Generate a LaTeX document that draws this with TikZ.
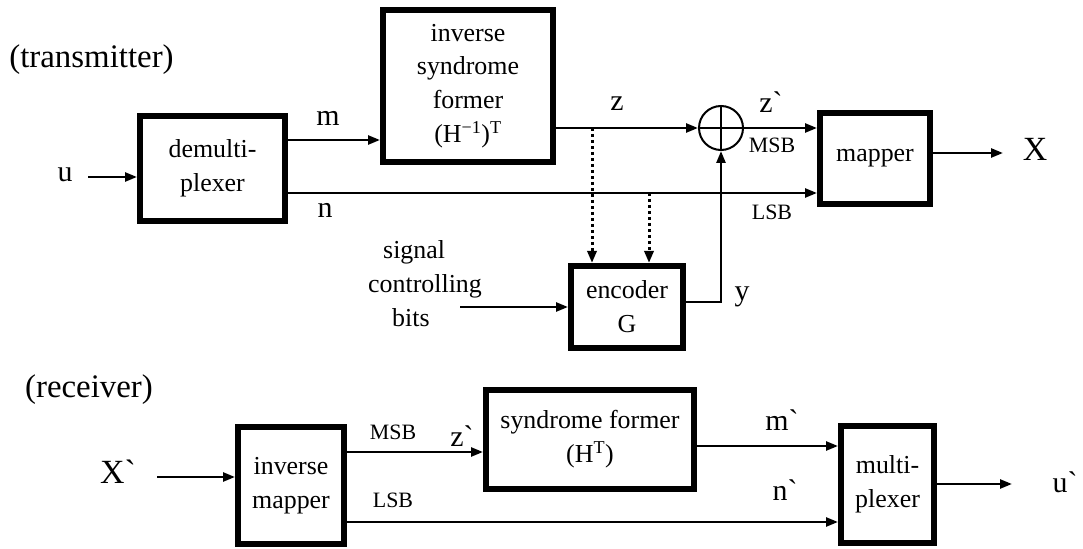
\documentclass[tikz,border=0pt]{standalone}
\usepackage{fontspec}
\setmainfont{Liberation Serif}
\usetikzlibrary{arrows.meta}
\newcommand{\bq}{\textasciigrave}
\begin{document}
\begin{tikzpicture}[x=1bp,y=-1bp,
  blk/.style={draw, line width=6bp, inner sep=0pt, align=center, font=\fontsize{26}{34}\selectfont},
  conn/.style={line width=2.5bp, -{Triangle[length=12bp,width=9bp]}},
  dconn/.style={line width=3bp, dash pattern=on 3bp off 3bp, -{Triangle[length=12bp,width=9bp]}},
  lbl/.style={font=\fontsize{30}{32}\selectfont, inner sep=0pt},
  big/.style={font=\fontsize{34}{36}\selectfont, inner sep=0pt},
  sml/.style={font=\fontsize{22}{24}\selectfont, inner sep=0pt},
  ttl/.style={font=\fontsize{33}{36}\selectfont, inner sep=0pt}]
\useasboundingbox (0,0) rectangle (1083,549);
% transmitter
\node[ttl] (tx) at (91.5,60) {(transmitter)};
\node[blk, minimum width=145bp, minimum height=105bp] (demux) at (212.5,168.5) {demulti-\\plexer};
\node[blk, minimum width=170bp, minimum height=152bp] (isf) at (468,86) {inverse\\syndrome\\former\\(H\textsuperscript{−1})\textsuperscript{T}};
\node[blk, minimum width=110bp, minimum height=91bp] (mapper) at (875,158.5) {mapper};
\node[blk, minimum width=112bp, minimum height=82bp] (enc) at (627,307) {encoder\\G};
\node[draw, circle, line width=2bp, minimum size=44bp, inner sep=0pt] (xor) at (721,128) {};
\draw[line width=2bp] (xor.north) -- (xor.south) (xor.west) -- (xor.east);
\node[lbl] (u) at (65,175) {u};
\coordinate (ustart) at (88,177);
\draw[conn] (ustart) -- (ustart -| demux.west);
\coordinate (mrow) at (0,140);
\draw[conn] (demux.east |- mrow) -- (isf.west |- mrow);
\node[lbl] (m) at (328,118) {m};
\coordinate (zrow) at (0,128);
\draw[conn] (isf.east |- zrow) -- (xor.west);
\node[lbl] (z) at (617,104) {z};
\draw[conn] (xor.east) -- (mapper.west |- xor.east);
\node[lbl] (zp) at (771,102) {z\bq};
\node[sml] (msb) at (772,145) {MSB};
\coordinate (nrow) at (0,193);
\draw[conn] (demux.east |- nrow) -- (mapper.west |- nrow);
\node[lbl] (n) at (325,210) {n};
\node[sml] (lsb) at (772,212) {LSB};
\coordinate (xend) at (1003,153);
\draw[conn] (mapper.east |- xend) -- (xend);
\node[big] (X) at (1035,149) {X};
\coordinate (d1) at (592,128);
\coordinate (d2) at (649,193);
\draw[dconn] (d1) -- (d1 |- enc.north);
\draw[dconn] (d2) -- (d2 |- enc.north);
\node[font=\fontsize{26}{34}\selectfont, align=left, inner sep=0pt, anchor=west] (sig) at (368,284) {\hspace*{15bp}signal\\controlling\\\hspace*{24bp}bits};
\coordinate (sstart) at (460,307);
\draw[conn] (sstart) -- (sstart -| enc.west);
\coordinate (yrow) at (0,302);
\draw[conn] (enc.east |- yrow) -| (xor.south);
\node[lbl] (y) at (742,297) {y};
% receiver
\node[ttl] (rx) at (89,390) {(receiver)};
\node[blk, minimum width=106bp, minimum height=117bp] (imap) at (291,485.5) {inverse\\mapper};
\node[blk, minimum width=208bp, minimum height=99bp] (synd) at (590,439.5) {syndrome former\\(H\textsuperscript{T})};
\node[blk, minimum width=93bp, minimum height=117bp] (mux) at (887.5,484.5) {multi-\\plexer};
\node[big] (Xp) at (118,472) {X\bq};
\coordinate (xpstart) at (157,477);
\draw[conn] (xpstart) -- (xpstart -| imap.west);
\coordinate (msbrow) at (0,452);
\draw[conn] (imap.east |- msbrow) -- (synd.west |- msbrow);
\node[sml] (msb2) at (393,432) {MSB};
\node[lbl] (zp2) at (462,436) {z\bq};
\coordinate (mprow) at (0,446);
\draw[conn] (synd.east |- mprow) -- (mux.west |- mprow);
\node[lbl] (mp) at (782,420) {m\bq};
\coordinate (lsbrow) at (0,522);
\draw[conn] (imap.east |- lsbrow) -- (mux.west |- lsbrow);
\node[sml] (lsb2) at (393,500) {LSB};
\node[lbl] (np) at (785,490) {n\bq};
\coordinate (upend) at (1012,484);
\draw[conn] (mux.east |- upend) -- (upend);
\node[lbl] (up) at (1065,482) {u\bq};
\end{tikzpicture}
\end{document}
